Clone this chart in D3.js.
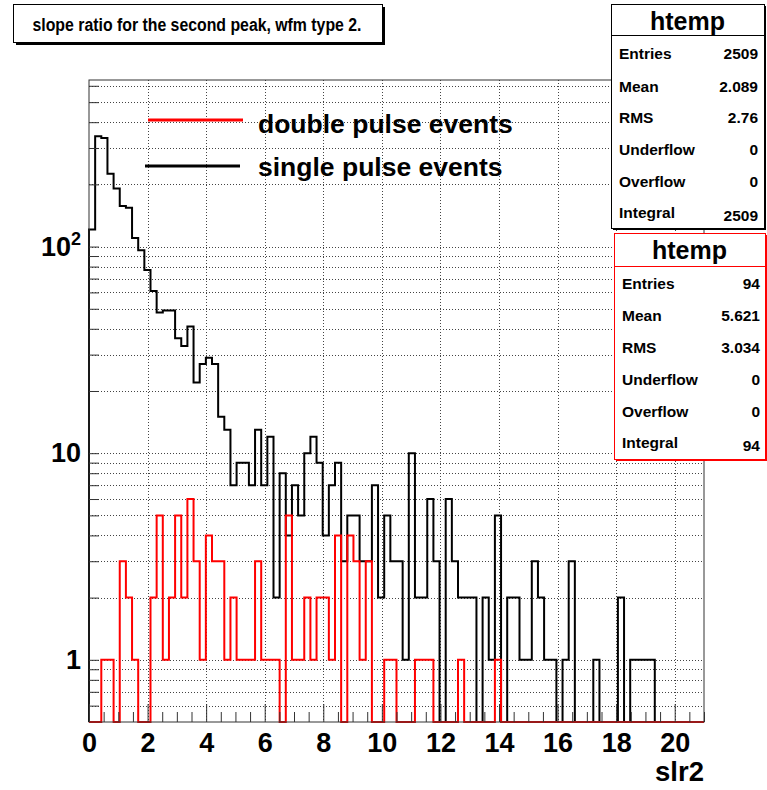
<!DOCTYPE html>
<html>
<head>
<meta charset="utf-8">
<script src="https://cdn.jsdelivr.net/npm/d3@7"></script>
<style>
  html, body { margin: 0; padding: 0; background: #fff; }
  svg { display: block; }
  text { font-family: "Liberation Sans", Arial, Helvetica, sans-serif; font-weight: bold; fill: #000; }
</style>
</head>
<body>
<svg id="c" width="767" height="790"></svg>
<script>
// Histogram binning of slr2: 100 bins from 0 to 21
const binLow = 0;
const binHigh = 21;
const nBins = 100;

// single pulse events (black), counts per bin
const singleCounts = [
  121, 342, 335, 225, 191, 157, 154, 110, 96, 77,
  61, 48, 49, 49, 36, 33, 41, 22, 27, 29,
  27, 15, 13, 7, 9, 9, 7, 13, 7, 12,
  2, 8, 4, 7, 5, 10, 12, 9, 4, 7,
  9, 3, 5, 5, 3, 3, 7, 2, 5, 3,
  3, 1, 10, 2, 2, 6, 3, 0, 6, 3,
  2, 2, 2, 0, 2, 1, 5, 0, 2, 2,
  1, 1, 3, 2, 1, 1, 0, 1, 3, 0,
  0, 0, 1, 0, 0, 0, 2, 0, 1, 1,
  1, 1, 0, 0, 0, 0, 0, 0, 0, 0
];

// double pulse events (red), counts per bin
const doubleCounts = [
  0, 0, 1, 1, 0, 3, 2, 1, 0, 0,
  2, 5, 1, 2, 5, 2, 6, 3, 1, 4,
  3, 3, 1, 2, 1, 1, 1, 3, 1, 1,
  1, 0, 5, 1, 1, 2, 1, 2, 2, 1,
  4, 0, 4, 3, 1, 3, 0, 0, 1, 1,
  0, 0, 0, 1, 1, 1, 0, 0, 0, 0,
  1, 0, 0, 0, 0, 0, 1, 0, 0, 0,
  0, 0, 0, 0, 0, 0, 0, 0, 0, 0,
  0, 0, 0, 0, 0, 0, 0, 0, 0, 0,
  0, 0, 0, 0, 0, 0, 0, 0, 0, 0
];

// axis ranges and ticks
const yMin = 0.5;
const yMax = 640;
const xMajorTicks = [0, 2, 4, 6, 8, 10, 12, 14, 16, 18, 20];
const xMinorTicks = d3.range(0, 21.01, 0.5).filter(v => v % 2 !== 0);
const yTicks = [0.6, 0.7, 0.8, 0.9, 1, 2, 3, 4, 5, 6, 7, 8, 9, 10,
                20, 30, 40, 50, 60, 70, 80, 90, 100, 200, 300, 400, 500, 600];
const yLabelValues = [1, 10, 100];

// titles, legend, statistics boxes
const chartTitle = "slope ratio for the second peak, wfm type 2.";
const xTitle = "slr2";
const legendLabels = ["double pulse events", "single pulse events"];
const seriesColors = ["#ff0000", "#000000"];
const statNames = ["Entries", "Mean", "RMS", "Underflow", "Overflow", "Integral"];
const statsSingle = ["2509", "2.089", "2.76", "0", "0", "2509"];
const statsDouble = ["94", "5.621", "3.034", "0", "0", "94"];

const svg = d3.select("#c");
const frame = { left: 89, right: 704, top: 80, bottom: 722 };

const x = d3.scaleLinear().domain([binLow, binHigh]).range([frame.left, frame.right]);
const y = d3.scaleLog().domain([yMin, yMax]).range([frame.bottom, frame.top]);

// grid
const grid = svg.append("g").attr("stroke", "#444").attr("stroke-width", 1)
  .attr("stroke-dasharray", "1,2").attr("shape-rendering", "crispEdges");
grid.selectAll("line.h").data(yTicks).join("line")
  .attr("x1", frame.left).attr("x2", frame.right)
  .attr("y1", d => Math.round(y(d)) + 0.5).attr("y2", d => Math.round(y(d)) + 0.5);
grid.selectAll("line.v").data(xMajorTicks.filter(d => d > 0)).join("line")
  .attr("y1", frame.top).attr("y2", frame.bottom)
  .attr("x1", d => Math.round(x(d)) + 0.5).attr("x2", d => Math.round(x(d)) + 0.5);

// step outline of a histogram
const binW = (binHigh - binLow) / nBins;
function histPath(counts) {
  const yv = v => v > 0 ? y(v) : frame.bottom;
  const pts = [[x(binLow), frame.bottom]];
  counts.forEach((v, i) => {
    const lo = binLow + i * binW, hi = lo + binW;
    pts.push([x(lo), yv(v)], [x(hi), yv(v)]);
  });
  pts.push([x(binHigh), frame.bottom]);
  return d3.line()(pts);
}

svg.append("path").attr("d", histPath(singleCounts))
  .attr("fill", "none").attr("stroke", seriesColors[1]).attr("stroke-width", 2)
  .attr("stroke-linejoin", "miter");
svg.append("path").attr("d", histPath(doubleCounts))
  .attr("fill", "none").attr("stroke", seriesColors[0]).attr("stroke-width", 2)
  .attr("stroke-linejoin", "miter");

// frame
svg.append("rect")
  .attr("x", frame.left).attr("y", frame.top)
  .attr("width", frame.right - frame.left).attr("height", frame.bottom - frame.top)
  .attr("fill", "none").attr("stroke", "#333").attr("stroke-width", 1);

// x axis: major ticks with labels, minor ticks
const xAxisG = svg.append("g").attr("transform", `translate(0,${frame.bottom})`);
xAxisG.call(d3.axisBottom(x).tickValues(xMajorTicks).tickSize(-18).tickPadding(11)
  .tickFormat(d3.format("d")));
xAxisG.select(".domain").remove();
xAxisG.selectAll(".tick line").attr("stroke", "#333");
xAxisG.selectAll(".tick text").attr("font-size", 27).attr("font-family", null);

const xMinorG = svg.append("g").attr("transform", `translate(0,${frame.bottom})`);
xMinorG.call(d3.axisBottom(x).tickValues(xMinorTicks).tickSize(-10).tickFormat(""));
xMinorG.select(".domain").remove();
xMinorG.selectAll(".tick line").attr("stroke", "#333");

// y axis ticks
const yAxisG = svg.append("g").attr("transform", `translate(${frame.left},0)`);
yAxisG.call(d3.axisLeft(y).tickValues(yTicks).tickSize(-10).tickFormat(""));
yAxisG.select(".domain").remove();
yAxisG.selectAll(".tick line").attr("stroke", "#333");

// y labels: 1, 10, 10^2
const yLab = svg.append("g");
yLabelValues.forEach(v => {
  const t = yLab.append("text").attr("x", 81).attr("y", y(v) + 9)
    .attr("text-anchor", "end").attr("font-size", 27);
  const e = Math.round(Math.log10(v));
  if (e < 2) {
    t.text(String(v));
  } else {
    t.append("tspan").text("10");
    t.append("tspan").attr("dy", -11).attr("font-size", 18).text(String(e));
  }
});

// x axis title
svg.append("text").attr("x", frame.right).attr("y", 781)
  .attr("text-anchor", "end").attr("font-size", 27.5).text(xTitle);

// legend
const legend = svg.append("g");
const legendRows = [
  { y: 120, x1: 148, x2: 243, ty: 133 },
  { y: 166, x1: 145, x2: 240, ty: 176 }
];
legendLabels.forEach((lab, i) => {
  const r = legendRows[i];
  legend.append("line").attr("x1", r.x1).attr("x2", r.x2).attr("y1", r.y).attr("y2", r.y)
    .attr("stroke", seriesColors[i]).attr("stroke-width", 3);
  legend.append("text").attr("x", 258).attr("y", r.ty).attr("font-size", 26.5).text(lab);
});

// statistics boxes
function statBox(box, values, color) {
  const g = svg.append("g");
  g.append("rect").attr("x", box.x + 2).attr("y", box.y + 2)
    .attr("width", box.w).attr("height", box.h).attr("fill", color);
  g.append("rect").attr("x", box.x + 0.5).attr("y", box.y + 0.5)
    .attr("width", box.w).attr("height", box.h)
    .attr("fill", "#fff").attr("stroke", color).attr("stroke-width", 1);
  g.append("line").attr("x1", box.x).attr("x2", box.x + box.w)
    .attr("y1", box.sep + 0.5).attr("y2", box.sep + 0.5).attr("stroke", color);
  g.append("text").attr("x", box.x + box.w / 2).attr("y", box.headY)
    .attr("text-anchor", "middle").attr("font-size", 25).text("htemp");
  statNames.forEach((n, i) => {
    g.append("text").attr("x", box.labelX).attr("y", box.rowY[i])
      .attr("font-size", 15.5).text(n);
    g.append("text").attr("x", box.valueX).attr("y", box.rowY[i] + (i === 5 ? 3 : 0))
      .attr("text-anchor", "end").attr("font-size", 15.5).text(values[i]);
  });
}
statBox({ x: 611, y: 4, w: 153, h: 224, sep: 35, headY: 30,
          labelX: 619, valueX: 758, rowY: [59, 92, 123, 155, 187, 218] },
        statsSingle, "#000");
statBox({ x: 614, y: 233, w: 151, h: 226, sep: 266, headY: 259,
          labelX: 622, valueX: 760, rowY: [289, 321, 353, 385, 417, 448] },
        statsDouble, "#ff0000");

// title box
const tb = svg.append("g");
tb.append("rect").attr("x", 16).attr("y", 7).attr("width", 369).attr("height", 38).attr("fill", "#000");
tb.append("rect").attr("x", 13.5).attr("y", 4.5).attr("width", 369).attr("height", 38)
  .attr("fill", "#fff").attr("stroke", "#000");
tb.append("text").attr("x", 197).attr("y", 31).attr("text-anchor", "middle")
  .attr("font-size", 18).attr("textLength", 329).attr("lengthAdjust", "spacingAndGlyphs")
  .text(chartTitle);
</script>
</body>
</html>
